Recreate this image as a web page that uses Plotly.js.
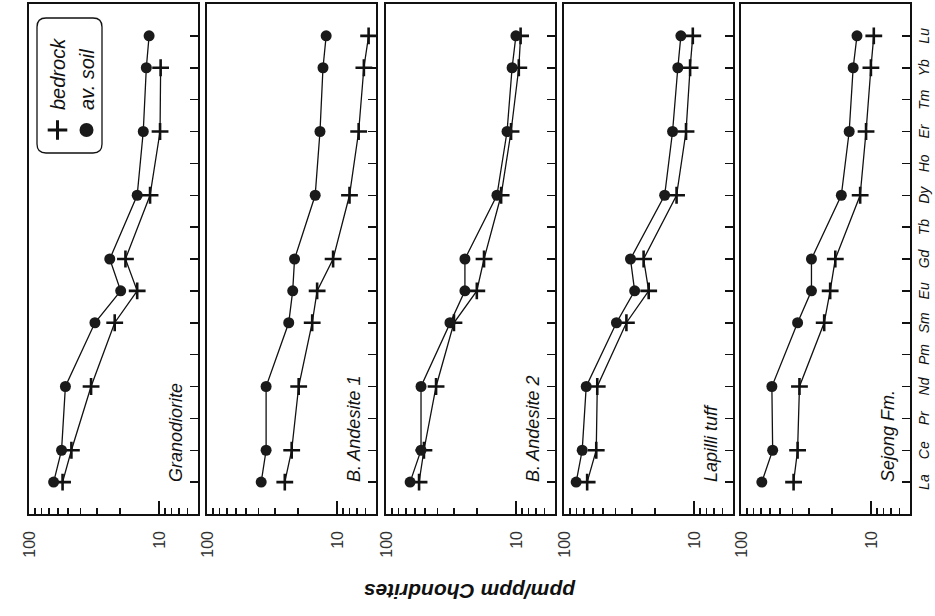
<!DOCTYPE html>
<html>
<head>
<meta charset="utf-8">
<script src="https://cdn.plot.ly/plotly-3.0.1.min.js"></script>
<style>
  html, body { margin: 0; padding: 0; overflow: hidden; background: #fff; width: 935px; height: 616px; }
  #chart { position: absolute; left: 0; top: 0; width: 616px; height: 935px;
           transform-origin: 0 0; transform: translate(0px, 616px) rotate(-90deg); }
</style>
</head>
<body>
<div id="chart"></div>
<script>
// ---------- data ----------
const elements = ['La','Ce','Pr','Nd','Pm','Sm','Eu','Gd','Tb','Dy','Ho','Er','Tm','Yb','Lu'];
const panelNames = ['Granodiorite','B. Andesite 1','B. Andesite 2','Lapilli tuff','Sejong Fm.'];
const yTickVals = [10, 100];
const yTickText = ['10', '100'];

const granodioriteSoil    = [64.7, 56.2, null, 52.5, null, 31.1, 19.7, 23.9, null, 14.7, null, 13.2, null, 12.5, 11.9];
const granodioriteBedrock = [55.2, 47.2, null, 33.3, null, 21.9, 14.7, 18.1, null, 11.7, null, 9.8,  null, 9.7,  null];
const andesite1Soil       = [38.3, 35.1, null, 35.1, null, 23.5, 21.9, 21.2, null, 14.7, null, 13.5, null, 12.8, 12.1];
const andesite1Bedrock    = [25.2, 22.3, null, 19.7, null, 15.5, 14.2, 10.7, null, 8.0,  null, 6.8,  null, 6.2,  5.7];
const andesite2Soil       = [65.3, 53.8, null, 53.8, null, 32.2, 24.7, 24.7, null, 14.0, null, 11.7, null, 10.7, 10.0];
const andesite2Bedrock    = [55.7, 51.1, null, 41.2, null, 30.0, 20.0, 17.6, null, 13.0, null, 10.9, null, 9.5,  9.2];
const lapilliSoil         = [80.7, 72.5, null, 67.5, null, 39.5, 28.6, 30.8, null, 16.8, null, 14.6, null, 13.3, 12.6];
const lapilliBedrock      = [66.4, 56.5, null, 55.5, null, 33.1, 22.3, 24.4, null, 13.6, null, 11.5, null, 10.7, 10.2];
const sejongSoil          = [69.2, 57.1, null, 57.9, null, 36.7, 28.7, 28.7, null, 16.9, null, 14.7, null, 13.7, 12.8];
const sejongBedrock       = [39.4, 36.7, null, 35.5, null, 22.9, 20.6, 18.8, null, 12.1, null, 10.9, null, 10.0, 9.5];

const soilSeries    = [granodioriteSoil, andesite1Soil, andesite2Soil, lapilliSoil, sejongSoil];
const bedrockSeries = [granodioriteBedrock, andesite1Bedrock, andesite2Bedrock, lapilliBedrock, sejongBedrock];

// ---------- layout helpers ----------
const W = 616, H = 935;
const ML = 102, MR = 4;
const plotW = W - ML - MR;
const panelTop = [29, 207, 386, 564, 741];
const panelH = 169;
const FONT = 'Liberation Sans, Arial, Helvetica, sans-serif';
const minorVals = [5,6,7,8,9,20,30,40,50,60,70,80,90];

function px2x(p) { return (p - ML) / plotW; }
function py2y(p) { return 1 - p / H; }
function roundedRect(x0, y0, x1, y1, r) {
  const X = px2x, Y = py2y;
  return 'M' + X(x0 + r) + ',' + Y(y0) +
    ' L' + X(x1 - r) + ',' + Y(y0) +
    ' Q' + X(x1) + ',' + Y(y0) + ' ' + X(x1) + ',' + Y(y0 + r) +
    ' L' + X(x1) + ',' + Y(y1 - r) +
    ' Q' + X(x1) + ',' + Y(y1) + ' ' + X(x1 - r) + ',' + Y(y1) +
    ' L' + X(x0 + r) + ',' + Y(y1) +
    ' Q' + X(x0) + ',' + Y(y1) + ' ' + X(x0) + ',' + Y(y1 - r) +
    ' L' + X(x0) + ',' + Y(y0 + r) +
    ' Q' + X(x0) + ',' + Y(y0) + ' ' + X(x0 + r) + ',' + Y(y0) + ' Z';
}

const traces = [];
const layout = {
  width: W, height: H,
  margin: {l: ML, r: MR, t: 0, b: 0, pad: 0},
  paper_bgcolor: '#fff', plot_bgcolor: '#fff',
  font: {family: FONT, color: '#111'},
  showlegend: true,
  legend: {
    x: px2x(466), y: py2y(38), xanchor: 'left', yanchor: 'top',
    bgcolor: 'rgba(0,0,0,0)', borderwidth: 0,
    font: {family: FONT, size: 20, style: 'italic', color: '#111'},
    itemwidth: 30, tracegroupgap: 0
  },
  annotations: [],
  shapes: [{
    type: 'path', xref: 'paper', yref: 'paper',
    path: roundedRect(463, 37, 598, 102, 9),
    line: {color: '#111', width: 1.3}, fillcolor: 'rgba(0,0,0,0)'
  }]
};

for (let i = 0; i < 5; i++) {
  const n = i + 1;
  const xa = n === 1 ? 'x' : 'x' + n;
  const ya = n === 1 ? 'y' : 'y' + n;
  const xkey = n === 1 ? 'xaxis' : 'xaxis' + n;
  const ykey = n === 1 ? 'yaxis' : 'yaxis' + n;

  traces.push({
    x: elements, y: bedrockSeries[i], xaxis: xa, yaxis: ya,
    type: 'scatter', mode: 'lines+markers', connectgaps: true, showlegend: false,
    line: {color: '#111', width: 1.3},
    marker: {symbol: 'cross-thin', size: 12, color: '#111', line: {color: '#111', width: 2.6}}
  });
  traces.push({
    x: elements, y: soilSeries[i], xaxis: xa, yaxis: ya,
    type: 'scatter', mode: 'lines+markers', connectgaps: true, showlegend: false,
    line: {color: '#111', width: 1.3},
    marker: {symbol: 'circle', size: 11, color: '#1a1a1a'}
  });

  layout[xkey] = {
    type: 'category', categoryorder: 'array', categoryarray: elements,
    range: [-1, 15], domain: [0, 1], anchor: ya,
    showline: true, mirror: true, linecolor: '#111', linewidth: 1.8,
    ticks: 'inside', ticklen: 8, tickwidth: 1.5, tickcolor: '#111',
    showgrid: false, zeroline: false, fixedrange: true,
    showticklabels: n === 5,
    tickfont: {family: FONT, size: 14, style: 'italic', color: '#111'}
  };
  layout[ykey] = {
    type: 'log', range: [Math.log10(5), 2.0005],
    domain: [1 - (panelTop[i] + panelH) / H, 1 - panelTop[i] / H], anchor: xa,
    showline: true, mirror: true, linecolor: '#111', linewidth: 1.8,
    tickmode: 'array', tickvals: yTickVals, ticktext: yTickText,
    ticks: 'inside', ticklen: 13, tickwidth: 1.5, tickcolor: '#111',
    ticklabelstandoff: 12,
    minor: {tickmode: 'array', tickvals: minorVals, ticks: 'inside', ticklen: 6, tickwidth: 1.5, tickcolor: '#111', showgrid: false},
    showgrid: false, zeroline: false, fixedrange: true,
    tickfont: {family: FONT, size: 16, color: '#333'}
  };

  layout.annotations.push({
    text: panelNames[i], xref: xa, yref: ya + ' domain',
    x: 'La', y: 0, xanchor: 'left', yanchor: 'bottom', xshift: -2, yshift: 10,
    showarrow: false,
    font: {family: FONT, size: 18, style: 'italic', color: '#111'}
  });
}

// legend-only entries (markers only)
traces.push({
  x: [null], y: [null], xaxis: 'x', yaxis: 'y', type: 'scatter', mode: 'markers', name: 'bedrock',
  marker: {symbol: 'cross-thin', size: 14, color: '#111', line: {color: '#111', width: 3}}
});
traces.push({
  x: [null], y: [null], xaxis: 'x', yaxis: 'y', type: 'scatter', mode: 'markers', name: 'av. soil',
  marker: {symbol: 'circle', size: 14, color: '#1a1a1a'}
});

layout.annotations.push({
  text: 'ppm/ppm Chondrites', xref: 'paper', yref: 'paper',
  x: px2x(24), y: py2y(470), xanchor: 'center', yanchor: 'middle',
  textangle: -90, showarrow: false,
  font: {family: FONT, size: 21, weight: 'bold', style: 'italic', color: '#111'}
});

Plotly.newPlot('chart', traces, layout, {staticPlot: true, displayModeBar: false});
</script>
</body>
</html>
